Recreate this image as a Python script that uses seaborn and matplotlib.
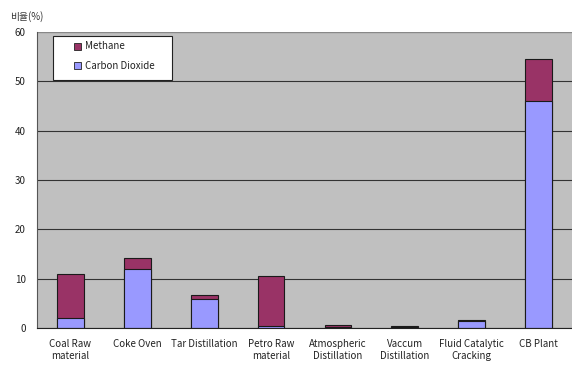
import matplotlib
matplotlib.use("Agg")
import matplotlib.pyplot as plt
import seaborn as sns
import pandas as pd
from matplotlib.patches import Patch, Rectangle
from matplotlib.ticker import FixedLocator

categories = ["Coal Raw\nmaterial", "Coke Oven", "Tar Distillation", "Petro Raw\nmaterial",
              "Atmospheric\nDistillation", "Vaccum\nDistillation", "Fluid Catalytic\nCracking", "CB Plant"]
carbon_dioxide = [2.0, 12.0, 5.9, 0.5, 0.3, 0.2, 1.4, 46.0]
methane = [9.0, 2.2, 0.8, 10.0, 0.3, 0.15, 0.3, 8.5]
y_ticks = [0, 10, 20, 30, 40, 50, 60]

df = pd.DataFrame({
    "category": categories,
    "co2": carbon_dioxide,
    "ch4": methane,
})
df["total"] = df["co2"] + df["ch4"]

sns.set_theme(style="white")
plt.rcParams["font.family"] = ["Noto Sans CJK KR", "DejaVu Sans"]

METHANE_COLOR = "#993366"
CO2_COLOR = "#9999FF"

fig = plt.figure(figsize=(5.72, 3.65), dpi=100)
ax = fig.add_axes([0.0647, 0.1014, 0.9353, 0.8109])
ax.set_facecolor("#C0C0C0")

sns.barplot(data=df, x="category", y="total", color=METHANE_COLOR, width=0.4,
            edgecolor="#1a1a1a", linewidth=0.8, saturation=1, ax=ax)
sns.barplot(data=df, x="category", y="co2", color=CO2_COLOR, width=0.4,
            edgecolor="#1a1a1a", linewidth=0.8, saturation=1, ax=ax)

ax.set_ylim(0, 60)
ax.set_xlim(-0.5, len(categories) - 0.5)
ax.set_yticks(y_ticks)
ax.yaxis.grid(True, color="#333333", linewidth=0.8)
ax.set_axisbelow(True)

ax.set_xlabel("")
ax.set_ylabel("")
ax.tick_params(axis="y", labelsize=7, colors="#222222", length=0, pad=8)
ax.tick_params(axis="x", labelsize=7, colors="#222222", length=0, pad=8)
ax.xaxis.set_minor_locator(FixedLocator([i + 0.5 for i in range(len(categories) - 1)]))
ax.tick_params(axis="x", which="minor", direction="in", length=3, color="#333333", width=0.8)

for side in ["top", "right"]:
    ax.spines[side].set_visible(False)
ax.spines["left"].set_color("#555555")
ax.spines["left"].set_linewidth(0.8)
ax.spines["bottom"].set_color("#222222")
ax.spines["bottom"].set_linewidth(0.8)
ax.axhline(60, color="#888888", linewidth=0.8)

# White legend panel in the upper-left corner of the plot area
ax.add_patch(Rectangle((0.030, 0.838), 0.222, 0.148, transform=ax.transAxes,
                       facecolor="white", edgecolor="#222222", linewidth=0.8, zorder=5))

handles = [Patch(facecolor=METHANE_COLOR, edgecolor="#222222", linewidth=0.6, label="Methane"),
           Patch(facecolor=CO2_COLOR, edgecolor="#222222", linewidth=0.6, label="Carbon Dioxide")]
leg = ax.legend(handles=handles, loc="upper left", bbox_to_anchor=(0.069, 0.968),
                fontsize=7, frameon=False, borderpad=0,
                handlelength=0.75, handleheight=0.75, handletextpad=0.35,
                labelspacing=0.95, borderaxespad=0)
leg.set_zorder(6)
for t in leg.get_texts():
    t.set_color("#222222")

fig.text(0.017, 0.955, "비율(%)", fontsize=7, color="#333333", ha="left", va="center")

fig.savefig("out.png", dpi=100)
